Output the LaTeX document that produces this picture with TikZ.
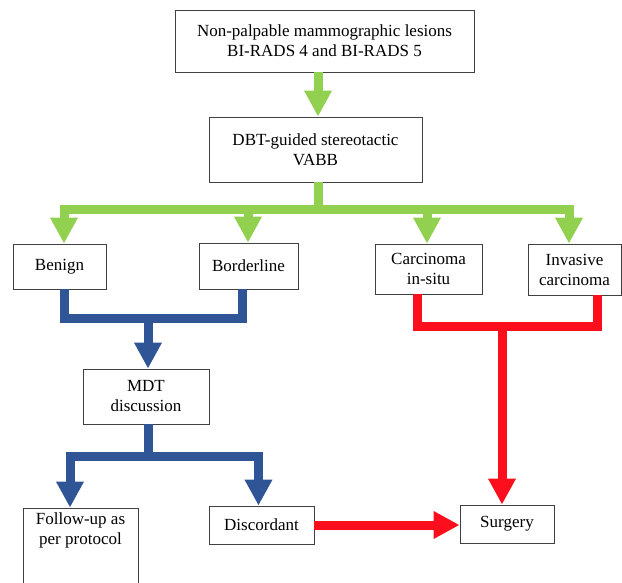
\documentclass[tikz,border=0pt]{standalone}
\usepackage{fontspec}
\setmainfont{Liberation Serif}
\usetikzlibrary{arrows.meta, positioning, calc}
\definecolor{flowgreen}{RGB}{146,208,80}
\definecolor{flowblue}{RGB}{47,85,151}
\definecolor{flowred}{RGB}{252,14,28}
\definecolor{boxgray}{RGB}{64,64,64}
\tikzset{
  box/.style = {
    draw=boxgray, line width=0.8pt, fill=white, align=center,
    inner sep=2pt, font=\fontsize{17pt}{20pt}\selectfont
  },
  link/.style = {
    line width=9pt, line join=miter
  },
  greenlink/.style = {link, draw=flowgreen},
  bluelink/.style = {link, draw=flowblue},
  redlink/.style = {link, draw=flowred},
  headarrow/.style = {
    -{Triangle[length=26pt, width=26pt]}
  }
}

\begin{document}
\begin{tikzpicture}[x=1pt, y=-1pt]
  \clip (0,0) rectangle (622,583);

  % Top of the chart
  \node[box, minimum width=299pt, minimum height=62pt] (lesions) at (324.5,41)
    {Non-palpable mammographic lesions\\BI-RADS 4 and BI-RADS 5};
  \node[box, minimum width=213pt, minimum height=65pt] (vabb) at (315.5,149.5)
    {DBT-guided stereotactic\\VABB};

  % Histology row
  \node[box, minimum width=93pt, minimum height=45pt] (benign) at (59.5,266.5) {Benign};
  \node[box, minimum width=99pt, minimum height=46pt] (border) at (248.5,266) {Borderline};
  \node[box, minimum width=107pt, minimum height=50pt] (cis) at (428.5,269) {Carcinoma\\in-situ};
  \node[box, minimum width=93pt, minimum height=51pt] (invasive) at (574.5,269.5) {Invasive\\carcinoma};

  % Discussion and outcomes
  \node[box, minimum width=126pt, minimum height=55pt] (mdt) at (146,396.5) {MDT\\discussion};
  \node[box, minimum width=115pt, minimum height=90pt] (follow) at (80.5,553)
    {\parbox[t][80pt][t]{110pt}{\centering Follow-up as\\per protocol}};
  \node[box, minimum width=105pt, minimum height=38pt] (discordant) at (261.5,525) {Discordant};
  \node[box, minimum width=94pt, minimum height=38pt] (surgery) at (507,524) {Surgery};

  % Junctions
  \coordinate (greenbus) at (318,209.5);
  \coordinate (bluebus) at (148,318.5);
  \coordinate (mdtbus) at (148,456);
  \coordinate (redbus) at (502,326);

  % Green arrows
  \draw[greenlink, headarrow] ([xshift=-6.5pt]lesions.south) -- ([xshift=-6.5pt]lesions.south |- vabb.north);
  \draw[greenlink] ([xshift=2.5pt]vabb.south) -- (greenbus);
  \draw[greenlink, headarrow] (greenbus) -| ([xshift=4.5pt]benign.north);
  \draw[greenlink, headarrow] (greenbus) -| ([xshift=-0.5pt]border.north);
  \draw[greenlink, headarrow] (greenbus) -| ([xshift=-1.5pt]cis.north);
  \draw[greenlink, headarrow] (greenbus) -| ([xshift=-5.5pt]invasive.north);

  % Blue arrows
  \draw[bluelink] ([xshift=4.5pt]benign.south) |- (bluebus);
  \draw[bluelink] ([xshift=-6.5pt]border.south) |- (bluebus);
  \draw[bluelink, headarrow] (bluebus) -- (bluebus |- mdt.north);
  \draw[bluelink] ([xshift=2pt]mdt.south) -- (mdtbus);
  \draw[bluelink, headarrow] (mdtbus) -| ([xshift=-10.5pt]follow.north);
  \draw[bluelink, headarrow] (mdtbus) -| ([xshift=-3pt]discordant.north);

  % Red arrows
  \draw[redlink] ([xshift=-11pt]cis.south) |- (redbus);
  \draw[redlink] ([xshift=22.5pt]invasive.south) |- (redbus);
  \draw[redlink, headarrow] (redbus) -- (redbus |- surgery.north);
  \draw[redlink, headarrow] (discordant.east) -- (discordant.east -| surgery.west);

\end{tikzpicture}
\end{document}
